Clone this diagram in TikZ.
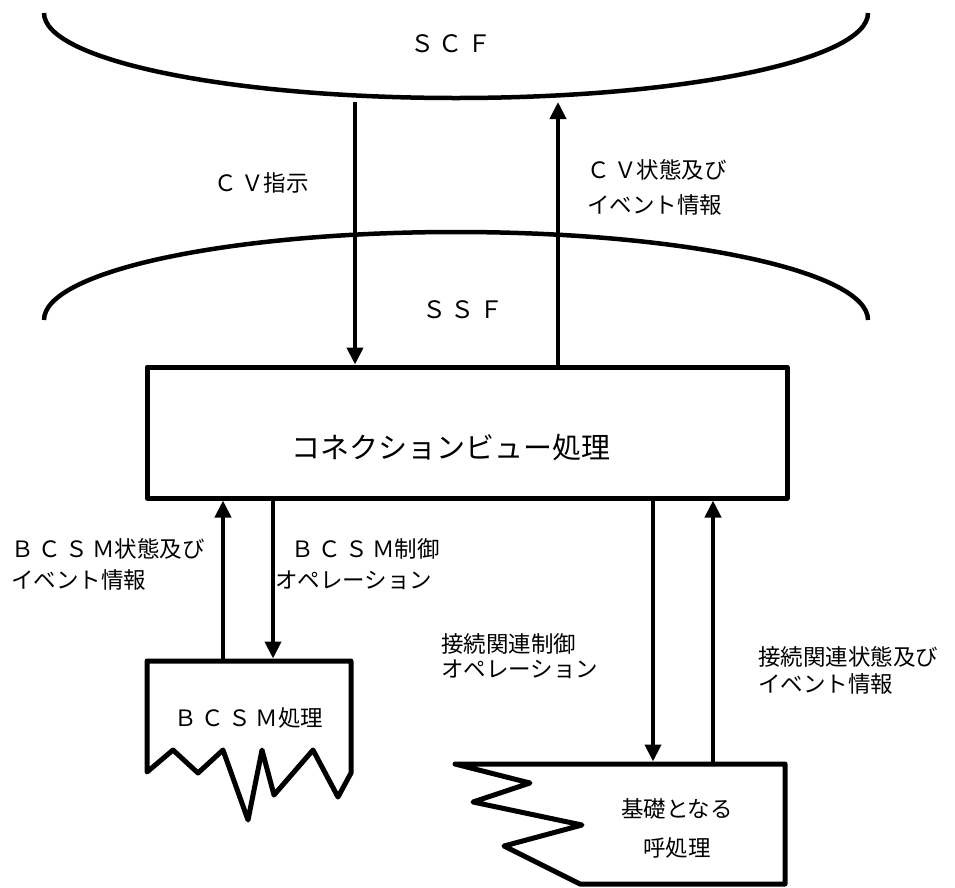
\documentclass[tikz,border=0pt]{standalone}
\usepackage{fontspec}
\setmainfont{Noto Sans CJK JP}
\usetikzlibrary{arrows.meta}
\newcommand\fwsp{\kern4.5pt}
\begin{document}
\begin{tikzpicture}[x=1pt,y=-1pt,line join=round,
  conn/.style={line width=4pt,-{Triangle[length=17pt,width=16pt]}},
  boxline/.style={draw,line width=5pt},
  arcline/.style={line width=4.5pt},
  lbl/.style={inner sep=0pt,font=\fontsize{22.5}{31}\selectfont},
  big/.style={inner sep=0pt,font=\fontsize{29}{29}\selectfont}]
\useasboundingbox (0,0) rectangle (955,887);
% SCF and SSF arcs
\draw[arcline] (44,13) arc[start angle=180,end angle=360,x radius=412pt,y radius=85pt];
\draw[arcline] (44,320) arc[start angle=180,end angle=0,x radius=412pt,y radius=88pt];
\node[lbl,font=\fontsize{24}{24}\selectfont] (scf) at (451,44) {Ｓ\kern5ptＣ\kern5ptＦ};
\node[lbl,font=\fontsize{24}{24}\selectfont] (ssf) at (463,310) {Ｓ\kern5ptＳ\kern5ptＦ};
% main box
\node[boxline,minimum width=640pt,minimum height=131pt,inner sep=0pt] (cv) at (467,432.5) {};
\node[big] (cvt) at (451,448) {コネクションビュー処理};
% coordinates at the SCF arc
\coordinate (scfA) at (355,102);
\coordinate (scfB) at (558,102);
\draw[conn] (scfA) -- (scfA |- cv.north);
\draw[conn] (cv.north -| scfB) -- (scfB);
\node[lbl,anchor=west] (cvins) at (214,183) {Ｃ\fwsp Ｖ指示};
\node[lbl,anchor=west,align=left,font=\fontsize{22.5}{35}\selectfont] (cvstat) at (587,187.5) {Ｃ\fwsp Ｖ状態及び\\イベント情報};
% BCSM box
\draw[boxline] (147,661) -- (351,661) -- (351,773) -- (338,797) -- (313,750) -- (274,795)
  -- (262,750) -- (248,820) -- (223,750) -- (198,773) -- (173,750) -- (147,772) -- cycle;
\node[lbl] (bcsmt) at (249,718) {Ｂ\fwsp Ｃ\fwsp Ｓ\fwsp Ｍ処理};
\coordinate (bcsmOut) at (223,658.5);
\coordinate (bcsmIn) at (273,658.5);
\draw[conn] (bcsmOut) -- (cv.south -| bcsmOut);
\draw[conn] (cv.south -| bcsmIn) -- (bcsmIn);
\node[lbl,anchor=west,align=left] (bcsmstat) at (11,564.5) {Ｂ\fwsp Ｃ\fwsp Ｓ\fwsp Ｍ状態及び\\イベント情報};
\node[lbl,anchor=west,align=left] (bcsmctl) at (275,564.5) {\hspace*{16pt}Ｂ\fwsp Ｃ\fwsp Ｓ\fwsp Ｍ制御\\オペレーション};
% basic call box
\draw[boxline] (455,764) -- (785,764) -- (785,884) -- (580,884) -- (504,846) -- (582,825)
  -- (473,802) -- (530,783) -- cycle;
\node[lbl,align=center,font=\fontsize{22.5}{39}\selectfont] (callt) at (677,828.5) {基礎となる\\呼処理};
\coordinate (callIn) at (653,761.5);
\coordinate (callOut) at (713,761.5);
\draw[conn] (cv.south -| callIn) -- (callIn);
\draw[conn] (callOut) -- (cv.south -| callOut);
\node[lbl,anchor=west,align=left,font=\fontsize{22.5}{25}\selectfont] (conctl) at (441,656) {接続関連制御\\オペレーション};
\node[lbl,anchor=west,align=left,font=\fontsize{22.5}{27}\selectfont] (constat) at (758,670) {接続関連状態及び\\イベント情報};
\end{tikzpicture}
\end{document}
